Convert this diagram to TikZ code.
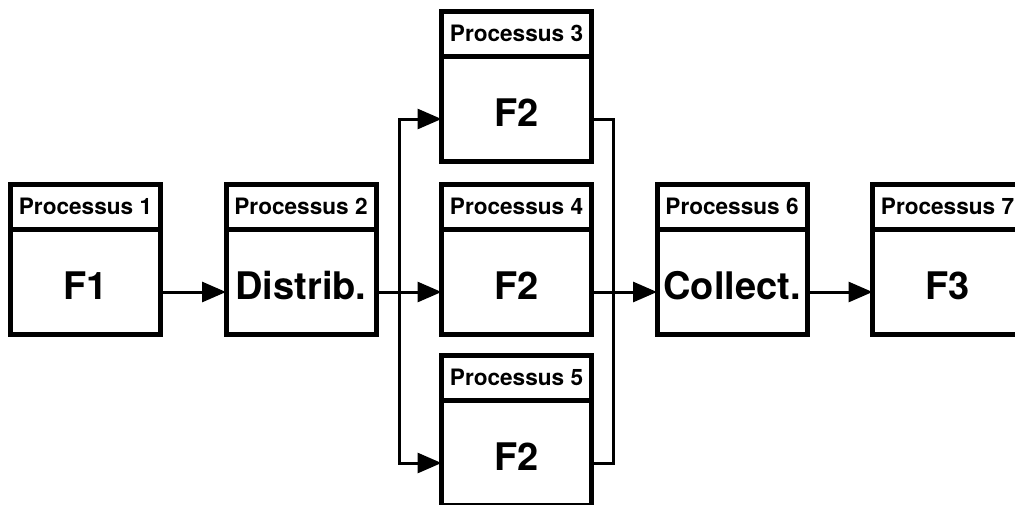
\documentclass[tikz,border=0pt]{standalone}
\usepackage{fontspec}
\setmainfont{TeX Gyre Heros}
\usetikzlibrary{arrows.meta,positioning}

\tikzset{
  head/.style={draw, line width=2.5pt, outer sep=0pt, inner sep=0pt,
    minimum width=75pt, minimum height=22.5pt,
    font=\bfseries\fontsize{11.3}{13}\selectfont},
  body/.style={draw, line width=2.5pt, outer sep=0pt, inner sep=0pt,
    minimum width=75pt, minimum height=52.5pt, text height=17.7pt, text depth=0pt,
    font=\bfseries\fontsize{19}{22}\selectfont},
  link/.style={line width=1.5pt},
  arrow/.style={link, -{Triangle[length=12pt,width=10pt]}}
}

\begin{document}
\begin{tikzpicture}[x=0.5pt,y=-0.5pt]
\useasboundingbox (0,0) rectangle (1015,504);

%draw process boxes
\foreach \i/\x/\y/\lbl in {1/85.5/184/F1, 2/301/184/Distrib., 3/516.5/11/F2,
  4/516.5/184/F2, 5/516.5/355/F2, 6/732/184/Collect., 7/947.5/184/F3}
{
  \node[head] (h\i) at (\x,\y+22.5) {Processus \i};
  \node[body, below=0pt of h\i] (p\i) {\lbl};
}

%draw main flow
\draw[arrow] ([yshift=-5.25pt]p1.east) -- ([yshift=-5.25pt]p2.west);
\draw[arrow] ([yshift=-5.25pt]p2.east) -- ([yshift=-5.25pt]p4.west);
\draw[arrow] ([yshift=-5.25pt]p4.east) -- ([yshift=-5.25pt]p6.west);
\draw[arrow] ([yshift=-5.25pt]p6.east) -- ([yshift=-5.25pt]p7.west);

%draw split and join
\coordinate (split) at (399,292);
\coordinate (join) at (613,292);
\draw[arrow] (split) |- ([yshift=-5.25pt]p3.west);
\draw[arrow] (split) |- ([yshift=-5.25pt]p5.west);
\draw[link] ([yshift=-5.25pt]p3.east) -| (join) |- ([yshift=-5.25pt]p5.east);
\end{tikzpicture}
\end{document}
